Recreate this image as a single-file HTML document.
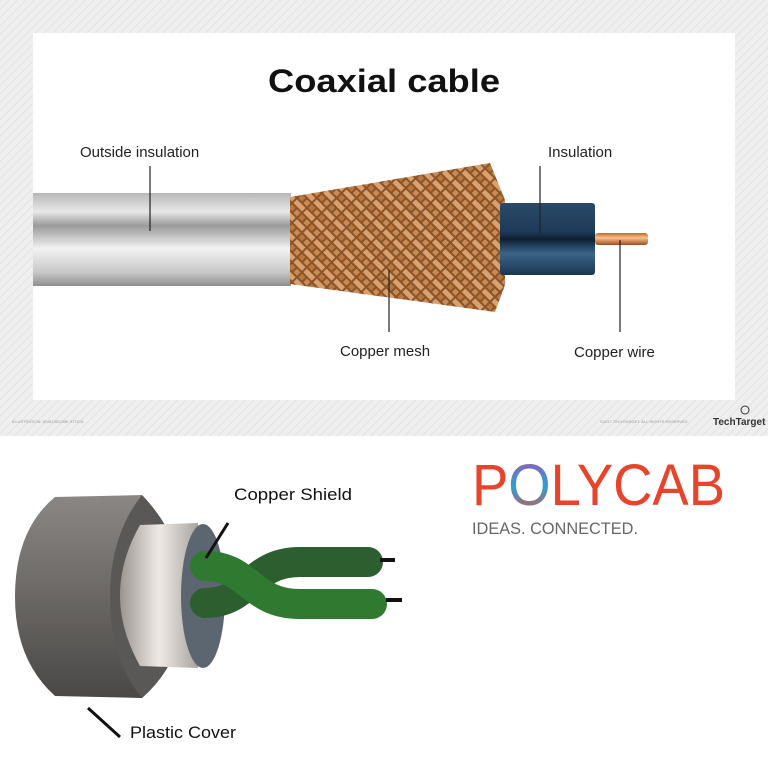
<!DOCTYPE html>
<html><head><style>
body{margin:0;width:768px;height:768px;background:#fff;position:relative;overflow:hidden;font-family:"Liberation Sans",sans-serif}
</style></head><body>
<svg width="768" height="768" viewBox="0 0 768 768" style="position:absolute;left:0;top:0">
<defs>
<pattern id="hatch" width="6" height="6" patternUnits="userSpaceOnUse" patternTransform="rotate(45)"><rect width="6" height="6" fill="#efefef"/><line x1="0" y1="0" x2="0" y2="6" stroke="#e2e2e2" stroke-width="2"/></pattern>
<linearGradient id="outer" x1="0" y1="0" x2="0" y2="1"><stop offset="0" stop-color="#b8b8b8"/><stop offset=".2" stop-color="#e8e8e8"/><stop offset=".35" stop-color="#9a9a9a"/><stop offset=".6" stop-color="#f2f2f2"/><stop offset=".85" stop-color="#c8c8c8"/><stop offset="1" stop-color="#8e8e8e"/></linearGradient>
<pattern id="mesh" width="14" height="14" patternUnits="userSpaceOnUse" patternTransform="rotate(45)"><rect width="14" height="14" fill="#8a5428"/><rect x="1" y="1" width="12" height="5" fill="#d9a070"/><rect x="1" y="8" width="5" height="5" fill="#b87840"/><rect x="8" y="8" width="5" height="5" fill="#c98b55"/></pattern>
<linearGradient id="blue" x1="0" y1="0" x2="0" y2="1"><stop offset="0" stop-color="#2a4a6a"/><stop offset=".4" stop-color="#1e3a58"/><stop offset=".5" stop-color="#0e1e30"/><stop offset=".7" stop-color="#3a6488"/><stop offset="1" stop-color="#1c3550"/></linearGradient>
<linearGradient id="cu" x1="0" y1="0" x2="0" y2="1"><stop offset="0" stop-color="#b86a30"/><stop offset=".4" stop-color="#f5c28a"/><stop offset="1" stop-color="#9a5020"/></linearGradient>
<linearGradient id="gray" x1="0" y1="0" x2="0" y2="1"><stop offset="0" stop-color="#8a8784"/><stop offset="1" stop-color="#4a4846"/></linearGradient>
<linearGradient id="shield" x1="0" y1="0" x2="1" y2="0"><stop offset="0" stop-color="#9a9590"/><stop offset=".5" stop-color="#efeae6"/><stop offset="1" stop-color="#a8a4a0"/></linearGradient>
<linearGradient id="poly" x1="0" y1="0" x2="0" y2="1"><stop offset="0" stop-color="#b04aa8"/><stop offset=".5" stop-color="#2aa0d8"/><stop offset="1" stop-color="#e84a3a"/></linearGradient>
</defs>
<rect width="768" height="436" fill="url(#hatch)"/>
<rect x="33" y="33" width="702" height="367" fill="#fff"/>
<text x="268" y="92" font-size="32" font-weight="bold" fill="#111" textLength="232" lengthAdjust="spacingAndGlyphs">Coaxial cable</text>
<rect x="33" y="193" width="258" height="93" fill="url(#outer)"/>
<path d="M290 197 L490 163 L505 200 L505 285 L495 312 L290 284 Z" fill="url(#mesh)"/>
<rect x="500" y="203" width="95" height="72" fill="url(#blue)" rx="3"/>
<rect x="595" y="233" width="53" height="12" fill="url(#cu)" rx="3"/>
<g font-size="15" fill="#222">
<text x="80" y="157">Outside insulation</text>
<text x="548" y="157">Insulation</text>
<text x="340" y="356">Copper mesh</text>
<text x="574" y="357">Copper wire</text>
</g>
<g stroke="#222" stroke-width="1.2">
<line x1="150" y1="166" x2="150" y2="231"/>
<line x1="540" y1="166" x2="540" y2="233"/>
<line x1="389" y1="270" x2="389" y2="332"/>
<line x1="620" y1="240" x2="620" y2="332"/>
</g>
<text x="12" y="423" font-size="4" fill="#999">ILLUSTRATION: VIVAT/ADOBE STOCK</text>
<text x="600" y="423" font-size="4" fill="#999">©2017 TECHTARGET. ALL RIGHTS RESERVED</text>
<text x="713" y="425" font-size="10" font-weight="bold" fill="#333">TechTarget</text>
<circle cx="745" cy="410" r="4" fill="none" stroke="#333"/>
<!-- bottom cable -->
<path d="M55 497 L142 495 Q185 540 185 600 Q185 660 142 698 L55 696 Q15 660 15 597 Q15 530 55 497 Z" fill="url(#gray)"/>
<path d="M142 495 Q185 540 185 600 Q185 660 142 698 Q110 660 110 597 Q110 535 142 495 Z" fill="#5a5856"/>
<path d="M140 525 L198 523 L198 668 L140 666 Q120 630 120 596 Q120 560 140 525 Z" fill="url(#shield)"/>
<ellipse cx="203" cy="596" rx="22" ry="72" fill="#5c6670"/>
<g fill="none" stroke-width="30" stroke-linecap="round">
<path d="M205 603 C250 603 250 562 300 562 L368 562" stroke="#2c5e30"/>
<path d="M205 566 C250 566 250 604 300 604 L372 604" stroke="#2f7a30"/>
</g>
<rect x="380" y="558" width="15" height="4" fill="#111"/>
<rect x="386" y="598" width="16" height="4" fill="#111"/>
<line x1="228" y1="523" x2="206" y2="558" stroke="#111" stroke-width="3"/>
<line x1="88" y1="708" x2="120" y2="737" stroke="#111" stroke-width="3"/>
<g font-size="17" fill="#111">
<text x="234" y="500" textLength="118" lengthAdjust="spacingAndGlyphs">Copper Shield</text>
<text x="130" y="738" textLength="106" lengthAdjust="spacingAndGlyphs">Plastic Cover</text>
</g>
<text x="472" y="505" font-size="58" fill="#e8442c" textLength="253" lengthAdjust="spacingAndGlyphs">P<tspan fill="url(#poly)">O</tspan>LYCAB</text>
<text x="472" y="534" font-size="17" fill="#666" textLength="166" lengthAdjust="spacingAndGlyphs">IDEAS. CONNECTED.</text>
</svg>
</body></html>
